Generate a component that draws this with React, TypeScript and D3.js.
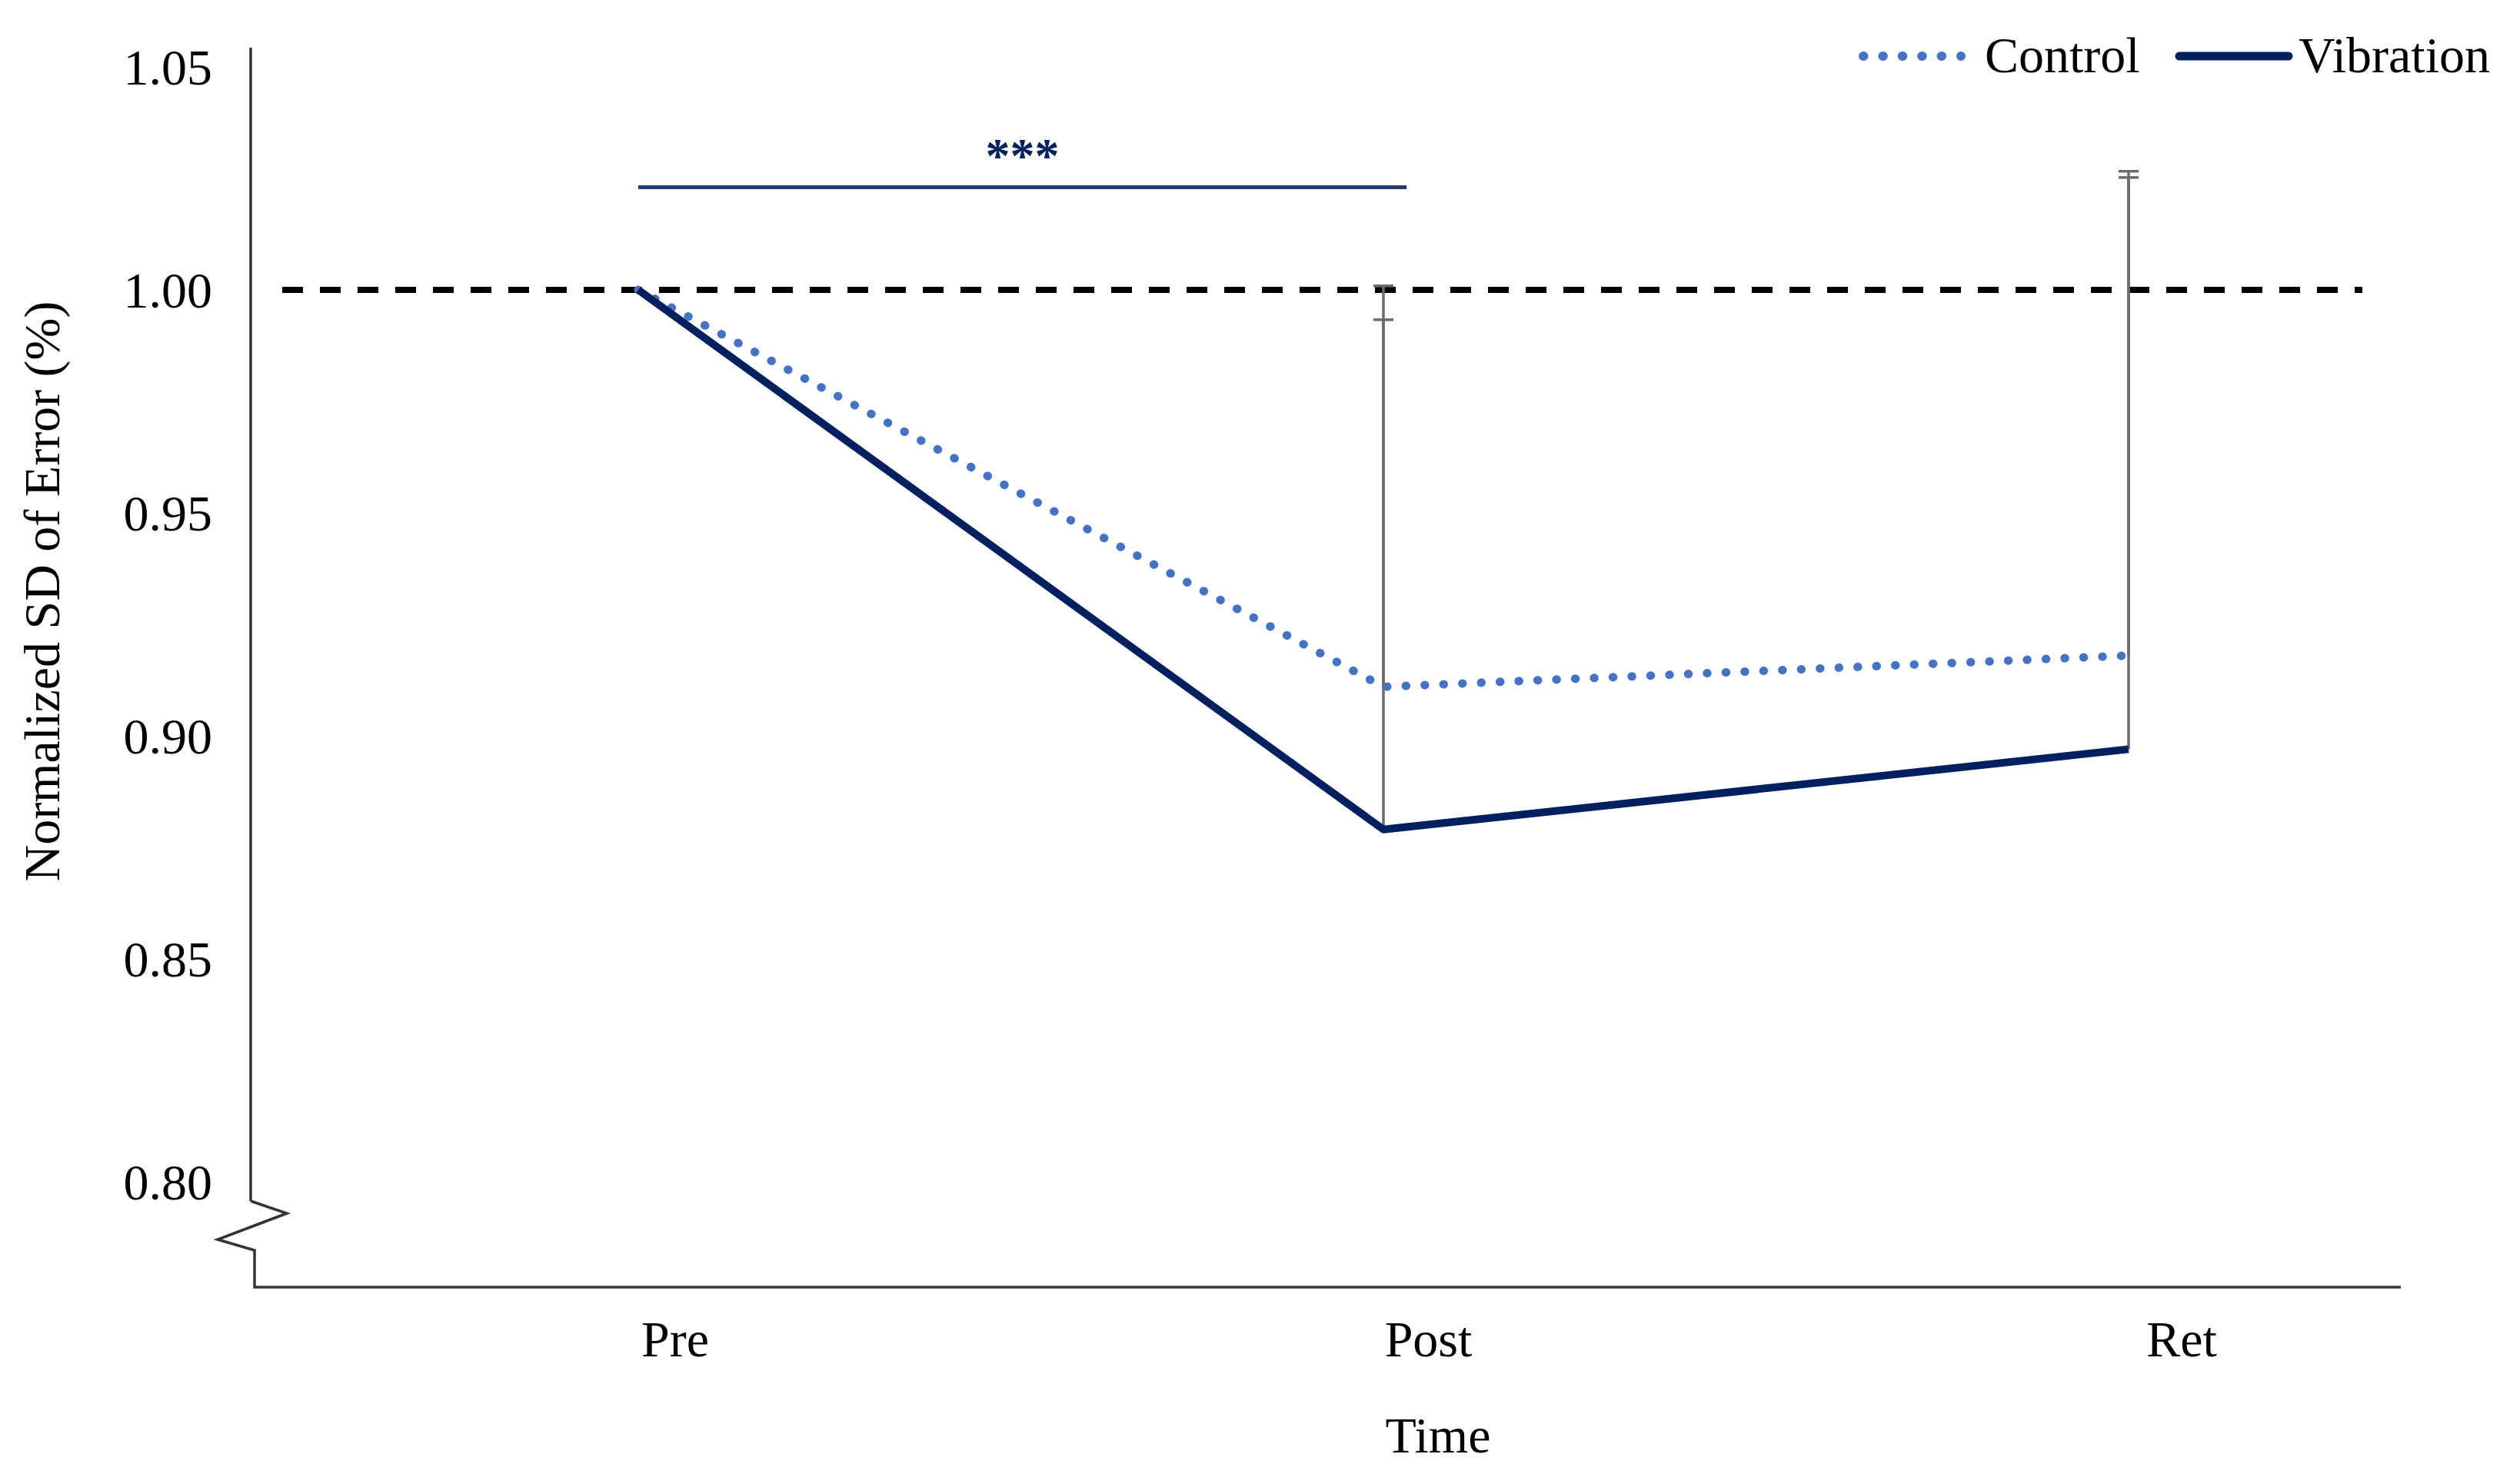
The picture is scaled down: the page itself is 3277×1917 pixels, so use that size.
import React from "react";
import * as d3 from "d3";

const categories = ["Pre", "Post", "Ret"];
const controlValues = [1.0, 0.911, 0.918];
const vibrationValues = [1.0, 0.879, 0.897];
const controlUpper = [null, 0.9933, 1.0266];
const vibrationUpper = [null, 1.0009, 1.0252];
const yTicks = [0.8, 0.85, 0.9, 0.95, 1.0, 1.05];
const referenceLevel = 1.0;
const sigLevel = 1.023;
const sigLabel = "***";

const W = 3277;
const H = 1917;
const FONT = "'Liberation Serif', 'Times New Roman', serif";
const NAVY = "#002060";
const LIGHT = "#4472C4";

export default function App() {
  const x = d3.scalePoint<string>().domain(categories).range([830, 2768]);
  const xLab = d3.scalePoint<string>().domain(categories).range([878, 2837]);
  const y = d3.scaleLinear().domain([0.8, 1.05]).range([1537, 87]);

  const line = d3
    .line<number>()
    .x((_, i) => x(categories[i]) as number)
    .y((d) => y(d));

  const axisX = 326;
  const axisTop = 62;
  const breakTop = 1562;
  const xAxisY = 1674;
  const xAxisRight = 3122;

  const errBars: { cx: number; y0: number; y1: number }[] = [];
  categories.forEach((c, i) => {
    if (vibrationUpper[i] != null)
      errBars.push({ cx: x(c) as number, y0: y(vibrationValues[i]), y1: y(vibrationUpper[i] as number) });
    if (controlUpper[i] != null)
      errBars.push({ cx: x(c) as number, y0: y(controlValues[i]), y1: y(controlUpper[i] as number) });
  });

  return (
    <svg
      width={W}
      height={H}
      style={{ position: "absolute", left: 0, top: 0, background: "#fff" }}
      fontFamily={FONT}
    >
      <rect width={W} height={H} fill="#fff" />
      {/* y axis */}
      <line x1={axisX} x2={axisX} y1={axisTop} y2={breakTop} stroke="#333" strokeWidth={3.5} />
      <polyline
        points={`${axisX},${breakTop} 373,1578 283,1612 331,1626 331,${xAxisY} ${xAxisRight},${xAxisY}`}
        fill="none"
        stroke="#333"
        strokeWidth={3.5}
      />
      {yTicks.map((t) => (
        <text key={t} x={276} y={y(t)} dy="0.35em" textAnchor="end" fontSize={66} fill="#000">
          {t.toFixed(2)}
        </text>
      ))}
      <text
        transform={`translate(54,769) rotate(-90)`}
        textAnchor="middle"
        dy="0.35em"
        fontSize={66}
        fill="#000"
      >
        Normalized SD of Error (%)
      </text>
      {categories.map((c) => (
        <text key={c} x={xLab(c)} y={1741} dy="0.35em" textAnchor="middle" fontSize={66} fill="#000">
          {c}
        </text>
      ))}
      <text x={1870} y={1866} dy="0.35em" textAnchor="middle" fontSize={66} fill="#000">
        Time
      </text>

      {/* reference line */}
      <line
        x1={367}
        x2={3072}
        y1={y(referenceLevel)}
        y2={y(referenceLevel)}
        stroke="#000"
        strokeWidth={8}
        strokeDasharray="27 22"
      />

      {/* significance */}
      <line
        x1={x("Pre")}
        x2={(x("Post") as number) + 30}
        y1={y(sigLevel)}
        y2={y(sigLevel)}
        stroke="#1f3d70"
        strokeWidth={5}
      />
      <text
        x={((x("Pre") as number) + (x("Post") as number) + 30) / 2}
        y={224}
        textAnchor="middle"
        fontSize={64}
        fontWeight="bold"
        fill={NAVY}
      >
        {sigLabel}
      </text>

      {/* error bars */}
      {errBars.map((e, i) => (
        <g key={i} stroke="#6b6b6b" strokeWidth={3.5}>
          <line x1={e.cx} x2={e.cx} y1={e.y0} y2={e.y1} />
          <line x1={e.cx - 13} x2={e.cx + 13} y1={e.y1} y2={e.y1} />
        </g>
      ))}

      {/* series */}
      <path
        d={line(controlValues) as string}
        fill="none"
        stroke={LIGHT}
        strokeWidth={11}
        strokeLinecap="round"
        strokeDasharray="0.5 24"
      />
      <path
        d={line(vibrationValues) as string}
        fill="none"
        stroke={NAVY}
        strokeWidth={10}
        strokeLinejoin="round"
      />

      {/* legend */}
      <line x1={2423} x2={2550} y1={73} y2={73} stroke={LIGHT} strokeWidth={12} strokeLinecap="round" strokeDasharray="0.5 24.9" />
      <text x={2581} y={71} dy="0.35em" fontSize={66} fill="#000">
        Control
      </text>
      <line x1={2834} x2={2976} y1={73} y2={73} stroke={NAVY} strokeWidth={11} strokeLinecap="round" />
      <text x={2989} y={71} dy="0.35em" fontSize={66} fill="#000">
        Vibration
      </text>
    </svg>
  );
}
